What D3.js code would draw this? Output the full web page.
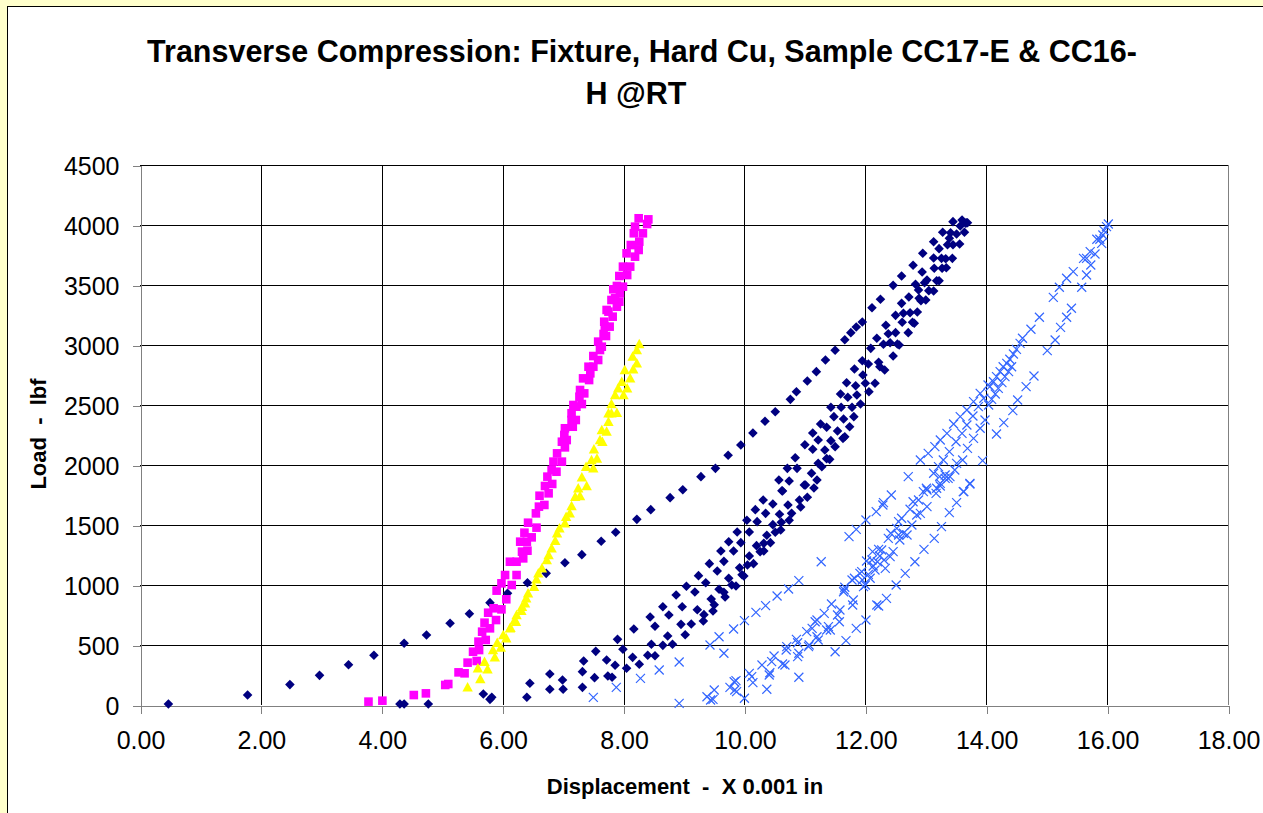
<!DOCTYPE html>
<html><head><meta charset="utf-8">
<script src="https://cdn.jsdelivr.net/npm/d3@7"></script>
<style>body{margin:0;background:#FFFFCC;overflow:hidden} svg{display:block}</style>
</head><body>
<svg id="chart" width="1263" height="813"></svg>
<script>
// ---------------- DATA ----------------
const titleLines = ["Transverse Compression: Fixture, Hard Cu, Sample CC17-E & CC16-", "H @RT"];
const xLabel = "Displacement  -  X 0.001 in";
const yLabel = "Load  -  lbf";
const xTicks = [0, 2, 4, 6, 8, 10, 12, 14, 16, 18];
const yTicks = [0, 500, 1000, 1500, 2000, 2500, 3000, 3500, 4000, 4500];

// Series 1 (navy diamonds) [displacement, load]
const seriesDiamond = [
[0.47,8],[1.78,83],[2.48,170],[2.97,247],[3.45,336],[3.87,414],[4.37,514],[4.74,583],[5.13,681],[5.45,761],[5.79,853],[6.08,931],[6.41,1019],[6.72,1097],[7.03,1186],[7.31,1253],[7.63,1364],[7.87,1439],[8.22,1547],[8.45,1628],[8.77,1728],[8.98,1794],[9.28,1903],[9.52,1972],[9.73,2081],[9.94,2167],[10.14,2267],[10.34,2364],[10.51,2444],[10.76,2547],[10.86,2611],[11.04,2700],[11.19,2778],[11.34,2875],[11.5,2956],[11.66,3044],[11.76,3103],[11.85,3150],[11.95,3192],[12.11,3311],[12.25,3381],[12.46,3497],[12.6,3575],[12.79,3664],[12.95,3764],[13.13,3861],[13.28,3939],[13.45,4028],[13.6,4042],[13.67,4019],
[4.30,8],[4.37,8],[4.77,8],[5.68,92],[5.79,47],[5.82,64],[6.40,64],[6.45,181],[6.78,131],[6.78,258],[6.99,208],[7.0,131],[7.32,147],[7.32,278],[7.34,367],[7.54,447],[7.52,228],[7.72,375],[7.74,242],[7.81,231],[7.86,331],[7.9,547],
[7.99,464],[8.05,306],[8.15,397],[8.17,633],[8.26,339],[8.40,414],[8.44,733],[8.46,506],[8.52,656],[8.52,411],[8.65,497],[8.65,819],[8.73,575],[8.75,750],[8.81,506],[8.87,917],[8.95,672],[8.97,819],[9.02,586],[9.04,989],[9.12,675],[9.18,942],[9.22,794],[9.24,1078],[9.32,700],[9.33,753],[9.36,1019],[9.42,1178],[9.45,883],[9.48,783],[9.5,836],[9.55,1117],[9.58,964],[9.61,1283],[9.66,939],[9.66,1197],[9.68,900],[9.74,1361],[9.74,1056],[9.79,1000],[9.82,1283],[9.86,992],[9.88,1442],[9.92,1144],[9.94,1353],[9.96,1086],[9.99,1075],[10.04,1539],[10.05,1167],[10.08,1442],[10.08,1242],[10.15,1178],[10.18,1628],[10.2,1328],[10.21,1528],[10.26,1278],[10.31,1708],[10.32,1283],[10.32,1347],[10.35,1597],[10.37,1414],[10.43,1353],[10.47,1675],[10.47,1503],[10.51,1439],[10.58,1589],[10.6,1458],[10.61,1522],[10.62,1786],[10.72,1667],[10.74,1539],[10.78,1597],[10.91,1708],[10.93,1650],[11.01,1833],[11.04,1731],[11.15,1808],
[10.57,1875],[10.63,1783],[10.71,1972],[10.74,1867],[10.84,2061],[10.87,1972],[10.99,1833],[11.0,2169],[11.11,1931],[11.13,2267],[11.13,2131],[11.2,1875],[11.22,2208],[11.22,2014],[11.26,2342],[11.28,1986],[11.33,2125],[11.36,2314],[11.36,2053],[11.41,2047],[11.43,2481],[11.43,2203],[11.48,2403],[11.5,2153],[11.54,2283],[11.59,2592],[11.6,2481],[11.63,2222],[11.64,2383],[11.66,2236],[11.69,2686],[11.71,2564],[11.74,2319],[11.78,2481],[11.81,2403],[11.82,2800],[11.84,2661],[11.86,2583],[11.92,2508],[11.95,2869],[11.96,2750],[12.0,2681],[12.05,2842],[12.06,2611],[12.09,2972],[12.16,2681],[12.19,3056],[12.22,2856],[12.24,2819],[12.3,3006],[12.32,2792],[12.34,3164],[12.38,3094],[12.41,3019],[12.46,2908],[12.5,3247],[12.5,3103],[12.53,3008],[12.56,3000],[12.6,3347],[12.61,3189],[12.63,3264],[12.71,3103],[12.72,3400],[12.74,3269],[12.78,3189],[12.81,3181],[12.83,3506],[12.86,3275],[12.88,3458],[12.89,3389],[12.92,3369],[12.94,3608],[12.98,3519],[13.0,3375],[13.02,3542],[13.05,3453],[13.13,3450],[13.13,3725],[13.14,3639],[13.18,3536],[13.22,3536],[13.22,3803],[13.26,3722],[13.27,3639],[13.33,3719],[13.34,3644],[13.36,3836],[13.39,3889],[13.41,3936],[13.44,3722],[13.45,3836],[13.51,3925],[13.56,3842],[13.57,3992],[13.64,3939],[13.66,4014],[13.69,4019]
];

// Series 2 (magenta squares)
const seriesSquare = [
[3.78,28],[4.01,36],[4.53,83],[4.73,97],[5.05,167],[5.10,175],[5.27,272],[5.37,264],[5.42,353],[5.57,367],[5.51,444],[5.61,458],[5.6,528],[5.72,542],[5.66,611],[5.79,639],[5.70,686],[5.76,769],[5.89,708],[5.85,806],[5.98,797],[5.9,953],[6.06,881],[5.98,1014],[6.15,1000],[6.04,1083],[6.23,1083],[6.12,1194],[6.23,1194],[6.34,1222],[6.32,1278],[6.41,1286],[6.29,1361],[6.4,1361],[6.36,1436],[6.48,1397],[6.42,1519],[6.56,1478],[6.55,1597],[6.6,1653],[6.69,1667],[6.61,1744],[6.76,1764],[6.7,1825],[6.82,1842],[6.74,1903],[6.89,1944],[6.81,1958],[6.84,2028],[6.98,2028],[6.9,2097],[7.03,2147],[6.98,2194],[7.06,2208],[7.02,2250],[7.16,2319],[7.03,2306],[7.14,2375],[7.21,2375],[7.14,2431],[7.22,2486],[7.17,2500],[7.31,2508],[7.27,2569],[7.35,2597],[7.28,2625],[7.43,2708],[7.33,2722],[7.45,2764],[7.42,2819],[7.5,2819],[7.5,2908],[7.58,2875],[7.61,2958],[7.58,3028],[7.64,2986],[7.67,3092],[7.71,3075],[7.69,3153],[7.77,3153],[7.68,3194],[7.75,3278],[7.82,3236],[7.72,3292],[7.8,3375],[7.89,3319],[7.86,3389],[7.93,3361],[7.83,3464],[7.94,3431],[7.89,3492],[7.99,3486],[7.93,3575],[8.06,3583],[7.99,3653],[8.11,3653],[8.05,3764],[8.19,3736],[8.12,3833],[8.25,3792],[8.17,3931],[8.26,3861],[8.32,3931],[8.19,3986],[8.25,4056],[8.39,4008],[8.41,4047]
];

// Series 3 (yellow triangles)
const seriesTriangle = [
[5.42,147],[5.63,217],[5.59,306],[5.75,297],[5.70,361],[5.87,397],[5.84,458],[5.97,478],[5.91,519],[6.06,556],[6.01,583],[6.12,639],[6.13,644],[6.2,708],[6.22,694],[6.23,750],[6.31,786],[6.32,819],[6.37,847],[6.39,889],[6.42,931],[6.52,986],[6.56,1047],[6.59,1097],[6.65,1139],[6.73,1208],[6.76,1250],[6.81,1306],[6.87,1369],[6.9,1431],[6.94,1472],[7.03,1514],[7.05,1569],[7.11,1597],[7.14,1658],[7.2,1736],[7.28,1742],[7.25,1806],[7.39,1825],[7.31,1897],[7.38,1986],[7.5,1972],[7.47,2042],[7.56,2053],[7.51,2131],[7.61,2208],[7.65,2194],[7.72,2278],[7.64,2292],[7.75,2361],[7.8,2431],[7.75,2431],[7.89,2436],[7.8,2508],[7.86,2583],[8.0,2583],[7.91,2639],[8.06,2639],[7.97,2694],[8.02,2792],[8.11,2722],[8.16,2797],[8.22,2847],[8.15,2903],[8.22,2958],[8.26,3008]
];

// Series 4 (blue crosses)
const seriesCross = [
[7.5,64],[7.88,147],[8.28,222],[8.59,292],[8.92,358],[8.92,14],[9.43,500],[9.66,431],[9.58,569],[9.82,633],[10.0,703],[10.19,772],[10.35,828],[10.54,908],[10.73,967],[10.9,1036],[11.27,1194],[11.73,1403],[11.85,1464],[12.01,1542],[12.18,1611],[12.29,1667],[12.43,1750],[12.71,1903],
[9.38,69],[9.44,42],[9.5,125],[9.48,47],[9.76,147],[9.83,194],[9.87,111],[9.84,125],[9.86,203],[10.0,56],[10.08,264],[10.12,236],[10.14,186],[10.29,333],[10.37,131],[10.42,269],[10.45,361],[10.41,250],[10.49,408],[10.63,342],[10.67,333],[10.69,458],[10.7,486],[10.86,547],[10.88,519],[10.9,431],[10.88,403],[10.9,231],[11.03,611],[11.06,486],[11.12,639],[11.07,500],[11.17,694],[11.2,708],[11.2,569],[11.22,542],[11.32,764],[11.36,625],[11.39,653],[11.42,625],[11.44,842],[11.5,444],[11.54,750],[11.57,694],[11.58,792],[11.64,944],[11.65,958],[11.66,981],[11.68,536],[11.79,833],[11.8,875],[11.85,639],[11.78,1042],[11.82,1056],[11.91,1097],[11.94,1111],[11.95,1042],[11.97,986],[12.0,1000],[12.01,708],[12.02,1200],[12.05,1089],[12.08,1056],[12.11,1208],[12.12,1278],[12.13,1158],[12.16,1125],[12.19,833],[12.2,1194],[12.22,825],[12.22,1297],[12.24,1242],[12.27,1292],[12.3,1686],[12.31,1208],[12.33,1139],[12.35,889],[12.38,1389],[12.41,1236],[12.42,1431],[12.46,1278],[12.51,1000],[12.52,1472],[12.55,1417],[12.55,1528],[12.57,1375],[12.6,1556],[12.63,1431],[12.66,1097],[12.69,1417],[12.74,1631],[12.77,1500],[12.79,1694],[12.82,1194],[12.85,1583],[12.88,1708],[12.91,1597],[12.96,1778],[12.97,1297],[13.02,1653],[13.01,1806],[13.14,1389],[13.17,1764],[13.23,1903],[13.26,1486],[13.32,1917],[13.39,1603],[13.4,1903],[13.51,1686],[13.62,1778],[13.73,1847],[13.02,1792],[13.18,1806],[13.24,1847],[13.32,1889],[13.51,2014],
[12.91,2042],[13.04,2097],[13.15,2153],[13.24,2208],[13.35,2264],[13.46,2342],[13.57,2403],[13.68,2458],[13.79,2528],[13.9,2597],[14.03,2667],
[13.13,1931],[13.21,1986],[13.29,2042],[13.39,2111],[13.5,2194],[13.6,2264],[13.68,2333],[13.78,2408],[13.87,2486],[13.96,2556],
[13.24,1825],[13.37,1889],[13.48,1958],[13.61,2042],[13.69,2139],[13.79,2222],[13.9,2306],[13.98,2375],[13.94,2036],
[14.06,2653],[14.12,2694],[14.17,2736],[14.23,2778],[14.28,2819],[14.34,2847],[14.39,2881],[14.45,2925],[14.5,2964],[14.56,3014],[14.04,2500],[14.09,2547],[14.15,2592],[14.2,2639],[14.26,2686],[14.31,2736],[14.37,2778],[14.42,2819],
[14.6,3056],[14.74,3131],[14.88,3231],[15.11,3397],[15.21,3481],[15.33,3556],[15.44,3611],[15.61,3722],[15.66,3722],[15.72,3778],[15.8,3758],[15.83,3881],[15.88,3881],[15.91,3847],[15.93,3917],[15.95,3953],[15.99,3986],[16.02,4008],[15.73,3667],[15.66,3583],[15.58,3481],[15.41,3306],[15.33,3231],[15.23,3147],[15.14,3042],[15.01,2953],[14.79,2742],[14.66,2653],[14.52,2542],[14.44,2453],[14.29,2353],[14.17,2258],[13.73,1842],[13.63,1778]
];

// ---------------- DRAW ----------------
const svg = d3.select("#chart");
const FONT = "'Liberation Sans', Arial, Helvetica, sans-serif";
const W = 1263, H = 813;
const plot = {left: 140, right: 1228, top: 165, bottom: 705};

svg.append("rect").attr("x",0).attr("y",0).attr("width",W).attr("height",H).attr("fill","#FFFFCC");
svg.append("rect").attr("x",7.5).attr("y",6.5).attr("width",W+20).attr("height",H+20)
  .attr("fill","#FFFFFF").attr("stroke","#000").attr("stroke-width",1);

const x = d3.scaleLinear().domain([0,18]).range([plot.left, plot.right]);
const y = d3.scaleLinear().domain([0,4500]).range([plot.bottom, plot.top]);

// gridlines
const grid = svg.append("g").attr("shape-rendering","crispEdges");
grid.selectAll("line.h").data(yTicks.filter(d=>d>0)).join("line")
  .attr("x1",plot.left).attr("x2",plot.right)
  .attr("y1",d=>Math.round(y(d))+0.5).attr("y2",d=>Math.round(y(d))+0.5)
  .attr("stroke","#000").attr("stroke-width",1);
grid.selectAll("line.v").data(xTicks.filter(d=>d>0)).join("line")
  .attr("y1",plot.top).attr("y2",plot.bottom)
  .attr("x1",d=>Math.round(x(d))+0.5).attr("x2",d=>Math.round(x(d))+0.5)
  .attr("stroke",d=>d===18?"#808080":"#000").attr("stroke-width",1);

// axes
const yAxis = svg.append("g").attr("transform",`translate(${plot.left+0.5},0.5)`)
  .call(d3.axisLeft(y).tickValues(yTicks).tickSize(8).tickPadding(13).tickFormat(d3.format("d")));
const xAxis = svg.append("g").attr("transform",`translate(0.5,${plot.bottom+0.5})`)
  .call(d3.axisBottom(x).tickValues(xTicks).tickSize(8).tickPadding(12).tickFormat(d3.format(".2f")));
[yAxis, xAxis].forEach(a=>{
  a.attr("shape-rendering","crispEdges");
  a.select(".domain").attr("stroke","#808080");
  a.selectAll(".tick line").attr("stroke","#808080");
  a.selectAll(".tick text").attr("fill","#000").style("font-family",FONT).style("font-size","25px");
});
yAxis.selectAll(".tick text").attr("dy","0.35em");
xAxis.selectAll(".tick text").attr("dy","0.95em");

// markers
const gD = svg.append("g");
gD.selectAll("path").data(seriesDiamond).join("path")
  .attr("transform",d=>`translate(${x(d[0])},${y(d[1])})`)
  .attr("d","M0,-4.8L4.8,0L0,4.8L-4.8,0Z").attr("fill","#000080");
const gS = svg.append("g");
gS.selectAll("rect").data(seriesSquare).join("rect")
  .attr("x",d=>x(d[0])-4.3).attr("y",d=>y(d[1])-4.3).attr("width",8.6).attr("height",8.6)
  .attr("fill","#FF00FF");
const gT = svg.append("g");
gT.selectAll("path").data(seriesTriangle).join("path")
  .attr("transform",d=>`translate(${x(d[0])},${y(d[1])})`)
  .attr("d","M0,-5.3L5.2,4.2L-5.2,4.2Z").attr("fill","#FFFF00");
const gX = svg.append("g");
gX.selectAll("path").data(seriesCross).join("path")
  .attr("transform",d=>`translate(${x(d[0])},${y(d[1])})`)
  .attr("d","M-4.5,-4.5L4.5,4.5M-4.5,4.5L4.5,-4.5").attr("fill","none")
  .attr("stroke","#3366FF").attr("stroke-width",1.2);

// title
svg.append("text").attr("x",642).attr("y",62).attr("text-anchor","middle")
  .style("font-family",FONT).style("font-weight","bold").style("font-size","30.5px").text(titleLines[0]);
svg.append("text").attr("x",636).attr("y",104).attr("text-anchor","middle")
  .style("font-family",FONT).style("font-weight","bold").style("font-size","30.5px").text(titleLines[1]);

// axis titles
svg.append("text").attr("x",685).attr("y",794).attr("text-anchor","middle")
  .style("font-family",FONT).style("font-weight","bold").style("font-size","22px")
  .style("white-space","pre").text(xLabel);
svg.append("text").attr("transform","translate(46,434) rotate(-90)").attr("text-anchor","middle")
  .style("font-family",FONT).style("font-weight","bold").style("font-size","22px")
  .style("white-space","pre").text(yLabel);
</script>
</body></html>
